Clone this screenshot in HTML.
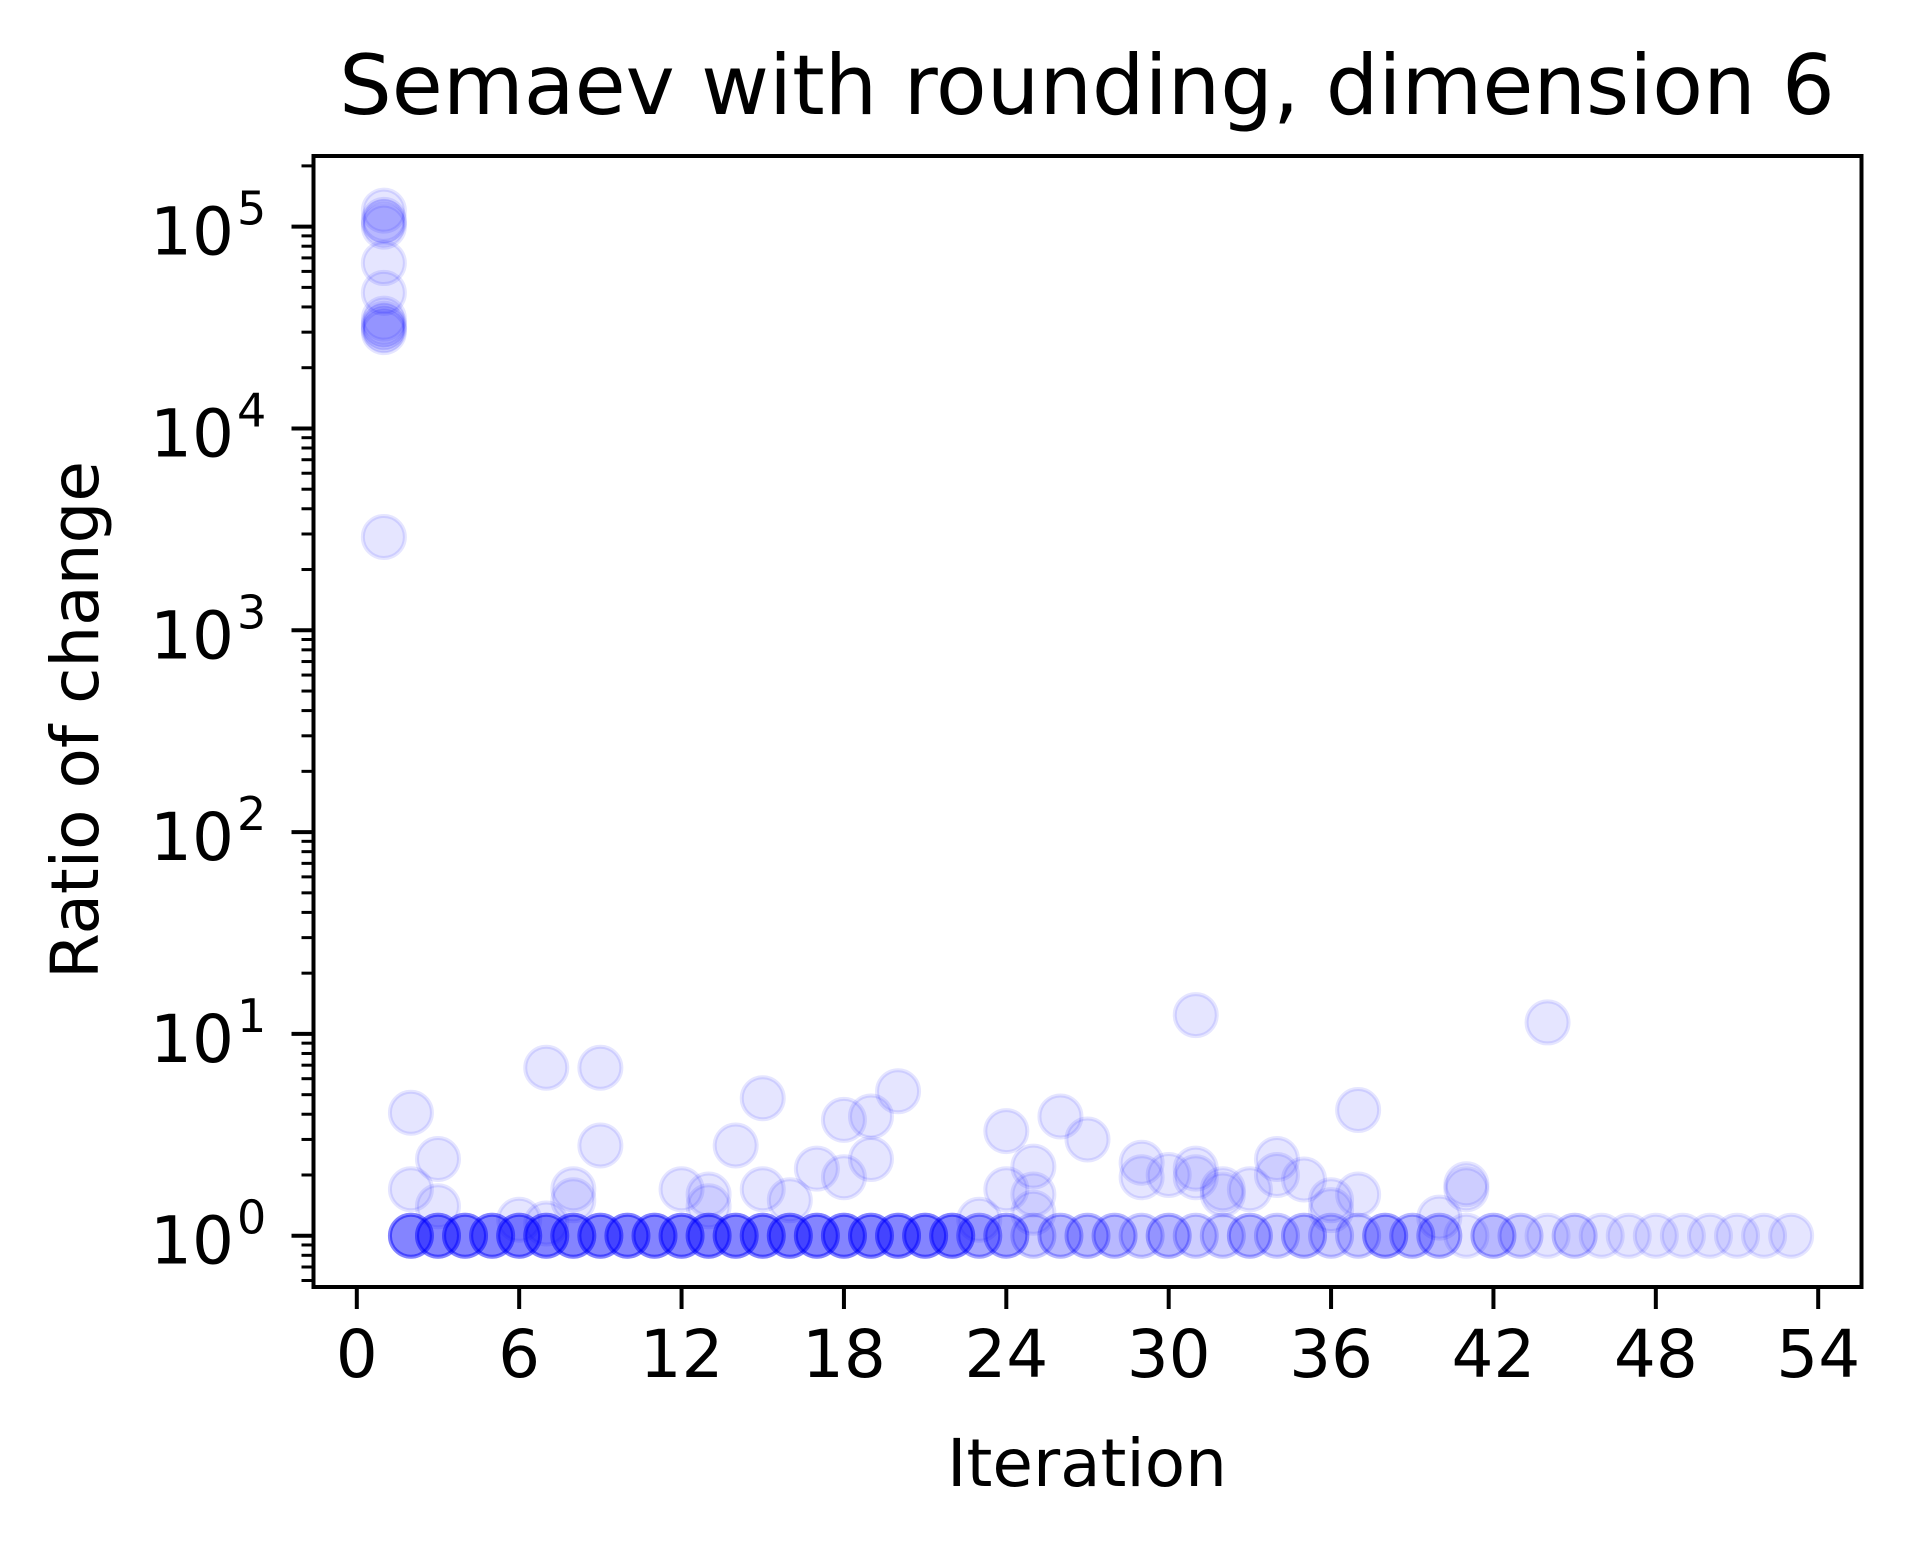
<!DOCTYPE html>
<html><head><meta charset="utf-8"><style>
html,body{margin:0;padding:0;background:#fff;}
svg{display:block;font-family:"DejaVu Sans","Liberation Sans",sans-serif;}
</style></head><body>
<svg id="chart" width="1913" height="1548" viewBox="0 0 1913 1548" xmlns="http://www.w3.org/2000/svg">
<rect width="1913" height="1548" fill="#fff"/>
<g id="points"></g>
<g id="axes"></g>
<text x="1087" y="114" font-size="83" text-anchor="middle" fill="#000">Semaev with rounding, dimension 6</text>
<text x="1087" y="1486" font-size="66" text-anchor="middle" fill="#000">Iteration</text>
<text x="0" y="0" font-size="66" text-anchor="middle" fill="#000" transform="translate(98,720) rotate(-90)">Ratio of change</text>
</svg>
<script>
// data
const iterations = [1,1,1,1,1,1,1,1,1,1,1,1, 2,2,3,3,6,7,7,8,8,9,9,12,13,13,14,15,15,16,17,18,18,19,19,20,23,24,24,25,25,25,26,27,29,29,30,31,31,31,32,32,33,34,34,35,36,36,37,37,40,41,41,44];
const ratios = [120000,108000,105000,100000,66000,47000,35000,33000,32000,31000,30000,2900, 4.07,1.7,2.4,1.4,1.2,6.8,1.15,1.7,1.5,6.8,2.8,1.7,1.6,1.4,2.8,4.8,1.7,1.5,2.15,3.75,1.95,3.9,2.4,5.2,1.2,3.3,1.7,2.2,1.6,1.3,3.9,3.0,2.3,1.95,2.0,12.4,2.15,1.95,1.7,1.6,1.7,2.4,2.0,1.9,1.5,1.34,4.2,1.6,1.23,1.8,1.7,11.4];
const unitIterations = [2,3,4,5,6,7,8,9,10,11,12,13,14,15,16,17,18,19,20,21,22,23,24,25,26,27,28,29,30,31,32,33,34,35,36,37,38,39,40,41,42,43,44,45,46,47,48,49,50,51,52,53];
const unitCounts = [6,6,6,6,6,6,6,6,6,6,6,6,6,6,6,6,6,6,6,6,6,4,4,2,3,3,3,2,3,2,2,3,2,3,2,2,4,3,3,1,3,2,1,2,1,1,1,1,1,1,1,1];
const xTicks = [0,6,12,18,24,30,36,42,48,54];
const yTicks = [0,1,2,3,4,5];

const L=313.5,R=1861.5,T=156,B=1287;
const xMin=-1.6,xMax=55.6,yMin=-0.254,yMax=5.35;
const sx=v=>L+(v-xMin)/(xMax-xMin)*(R-L);
const sy=v=>B-(Math.log10(v)-yMin)/(yMax-yMin)*(B-T);
const syl=e=>B-(e-yMin)/(yMax-yMin)*(B-T);
const NS='http://www.w3.org/2000/svg';
const pts=document.getElementById('points');
const axes=document.getElementById('axes');
function mk(tag,attrs,parent){const el=document.createElementNS(NS,tag);for(const k in attrs)el.setAttribute(k,attrs[k]);parent.appendChild(el);return el;}
function dot(x,y){
  const c=mk('circle',{cx:sx(x),cy:sy(y),r:21,fill:'#0000ff','fill-opacity':0.1,stroke:'#0000ff','stroke-opacity':0.1,'stroke-width':4},pts);
  
  
}
for(let i=0;i<iterations.length;i++)dot(iterations[i],ratios[i]);
for(let i=0;i<unitIterations.length;i++)for(let k=0;k<unitCounts[i];k++)dot(unitIterations[i],1);

const frame=mk('rect',{x:L,y:T,width:R-L,height:B-T,fill:'none',stroke:'#000','stroke-width':4},axes);


xTicks.forEach(v=>{
  const x=sx(v);
  const t=mk('line',{x1:x,x2:x,y1:B,y2:B+22,stroke:'#000','stroke-width':4},axes);
  
  
  const lb=mk('text',{x:x,y:B+90,'font-size':66,'text-anchor':'middle',fill:'#000'},axes);
  lb.textContent=v;
  
  
});
for(let e=-1;e<=5;e++){
  for(let m=2;m<=9;m++){
    const v=Math.log10(m)+e;
    if(v<yMin||v>yMax)continue;
    const y=syl(v);
    const t=mk('line',{x1:L-12,x2:L,y1:y,y2:y,stroke:'#000','stroke-width':3},axes);
    
    
  }
}
yTicks.forEach(e=>{
  const y=syl(e);
  const t=mk('line',{x1:L-22,x2:L,y1:y,y2:y,stroke:'#000','stroke-width':4},axes);
  
  
  const lb=mk('text',{x:150,y:y+28,'font-size':66,fill:'#000'},axes);
  
  
  const a=mk('tspan',{},lb);a.textContent='10';
  const b=mk('tspan',{'font-size':46,dy:-30,dx:3},lb);b.textContent=e;
});
</script>
</body></html>
